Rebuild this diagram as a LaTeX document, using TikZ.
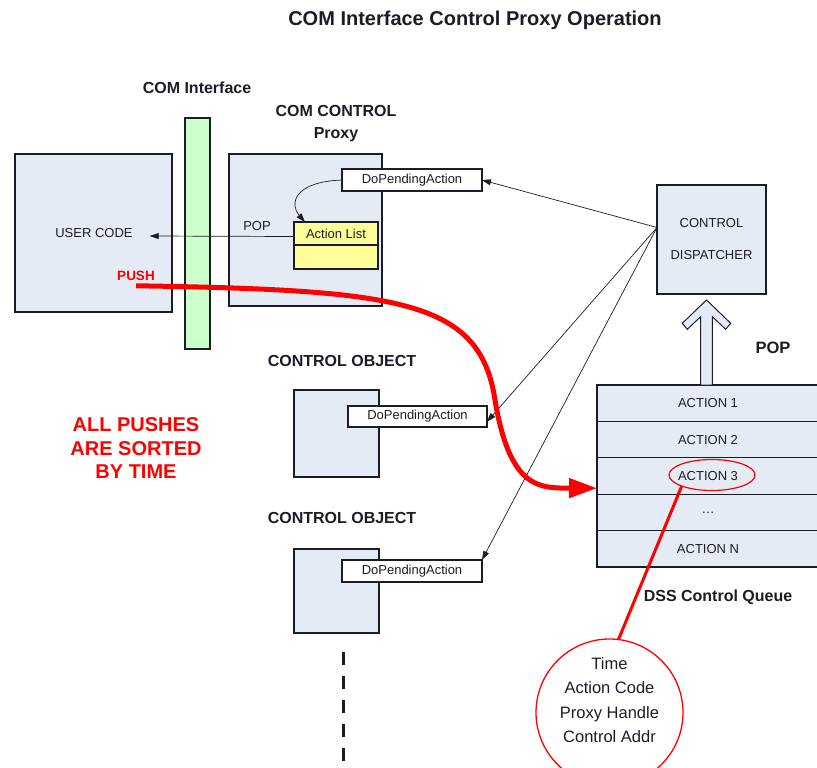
\documentclass[tikz,border=0pt]{standalone}
\usepackage{fontspec}
\setmainfont{Liberation Sans}
\usetikzlibrary{arrows.meta,calc,shapes.geometric}

\definecolor{boxblue}{HTML}{E5EBF5}
\definecolor{bargreen}{HTML}{CCFFCC}
\definecolor{listyellow}{HTML}{FFFF99}
\definecolor{ink}{HTML}{1C1C28}
\definecolor{hotred}{HTML}{FF0000}

\begin{document}
\begin{tikzpicture}[x=1pt,y=-1pt,
  every node/.style={inner sep=0pt, outer sep=0pt, text=ink},
  panel/.style={draw=ink, line width=1.2pt, fill=boxblue, anchor=north west},
  tagbox/.style={draw=ink, line width=1.1pt, fill=white, anchor=north west,
                 font=\fontsize{13}{15}\selectfont},
  small/.style={font=\fontsize{13}{15}\selectfont},
  heading/.style={font=\bfseries\fontsize{16}{22}\selectfont},
  link/.style={draw=ink, line width=0.7pt, -{Triangle[length=9pt,width=6pt]}},
]
\clip (0,0) rectangle (817,768);
\fill[white] (0,0) rectangle (817,768);

% titles and headings
\node[font=\bfseries\fontsize{20}{24}\selectfont] (title) at (475,20) {COM Interface Control Proxy Operation};
\node[heading] (comif) at (197,88) {COM Interface};
\node[heading, align=center] (proxylbl) at (336,124) {COM CONTROL\\Proxy};

% user side and interface bar
\node[panel, minimum width=157, minimum height=158] (user) at (15,154) {};
\node[small] (usertxt) at (94,233) {USER CODE};
\node[font=\bfseries\fontsize{13.5}{15}\selectfont, text=hotred] (push) at (136,276) {PUSH};
\node[draw=ink, line width=1.2pt, fill=bargreen, anchor=north west,
      minimum width=25, minimum height=231] (bar) at (185,118) {};

% proxy
\node[panel, minimum width=153, minimum height=152] (proxy) at (229,154) {};
\node[tagbox, minimum width=140, minimum height=22] (dpa1) at (342,169) {DoPendingAction};
\node[draw=ink, line width=1.1pt, fill=listyellow, anchor=north west, small,
      minimum width=84, minimum height=23] (alist) at (294,222) {Action List};
\node[draw=ink, line width=1.1pt, fill=listyellow, anchor=north west,
      minimum width=84, minimum height=24] (alistlow) at (294,245) {};
\node[small] (poplbl) at (257,226) {POP};

% control objects
\node[heading] (obj1lbl) at (342,361) {CONTROL OBJECT};
\node[panel, minimum width=85, minimum height=87] (obj1) at (294,390) {};
\node[tagbox, minimum width=139, minimum height=21] (dpa2) at (348,406) {DoPendingAction};
\node[heading] (obj2lbl) at (342,518) {CONTROL OBJECT};
\node[panel, minimum width=85, minimum height=84] (obj2) at (294,549) {};
\node[tagbox, minimum width=140, minimum height=22] (dpa3) at (342,560) {DoPendingAction};
\draw[ink, line width=3pt, dash pattern=on 13pt off 11pt] (343,652) -- (343,764);

% dispatcher
\node[panel, minimum width=109, minimum height=109, align=center,
      font=\fontsize{13}{32}\selectfont] (disp) at (657,185) {CONTROL\\DISPATCHER};
\coordinate (dsrc) at ($(disp.west)+(0,-12)$);

% control queue
\foreach \i/\t in {1/ACTION 1, 2/ACTION 2, 3/ACTION 3, 4/{\ldots}, 5/ACTION N} {
  \node[panel, small, minimum width=222, minimum height=36.4, text depth=0pt]
    (q\i) at (597,{385+36.4*(\i-1)}) {\t};
}
\node[heading] (qlbl) at (718,597) {DSS Control Queue};
\node[font=\bfseries\fontsize{16.5}{20}\selectfont] (poplbl2) at (773,348) {POP};

% block arrow from the queue up to the dispatcher
\draw[ink, line width=1pt, fill=boxblue, line join=miter]
  (706.5,300) -- (730.7,323.3) -- (725.7,329.3) -- (712.3,316.7) -- (712.3,385)
  -- (700.7,385) -- (700.7,316.7) -- (687.3,329.3) -- (682.3,323.3) -- cycle;

% action detail
\node[ellipse, draw=hotred, line width=1.2pt, minimum width=86, minimum height=31] (ell) at (712,475) {};
\node[circle, draw=hotred, line width=1.3pt, fill=white, minimum size=147] (detail) at (609.5,712.5) {};
\node[align=center, font=\fontsize{16.5}{24.5}\selectfont] (detailtxt) at (609.5,700)
  {Time\\Action Code\\Proxy Handle\\Control Addr};
\draw[hotred, line width=3pt] (ell.200) -- (detail.83);

% sorting note
\node[align=center, text=hotred, font=\bfseries\fontsize{20}{23.5}\selectfont] (note) at (136,448.5)
  {ALL PUSHES\\ARE SORTED\\BY TIME};

% connectors
\draw[link] ($(alist.west)+(0,3)$) -- ($(usertxt.east)+(17,3)$);
\draw[link] (dpa1.west) .. controls +(-50,2) and +(-15,-17) .. ($(alist.north west)+(11,0)$);
\draw[link] (dsrc) -- (dpa1.east);
\draw[link] (dsrc) -- ($(dpa2.south east)!0.25!(dpa2.north east)$);
\draw[link] (dsrc) -- (dpa3.north east);

% push path into the queue
\coordinate (pushstart) at ($(push.south)+(0,5)$);
\coordinate (qin) at ($(q3.south west)+(0,-6)$);
\draw[hotred, line width=5pt, -{Triangle[length=28pt,width=19pt]}]
  (pushstart) .. controls (400,290) and (480,300) .. (495,400)
  .. controls (510,490) and (540,488) .. (qin);
\end{tikzpicture}
\end{document}
